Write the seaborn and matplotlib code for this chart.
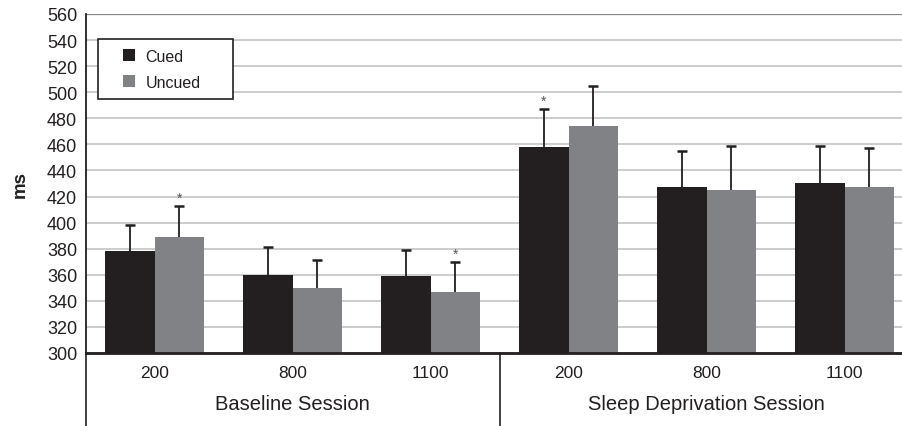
import matplotlib
matplotlib.use("Agg")
from matplotlib import pyplot as plt
import pandas as pd
import seaborn as sns

# values
sessions = ["Baseline Session", "Sleep Deprivation Session"]
delays = ["200", "800", "1100"]
cued_mean = [378, 360, 359, 458, 427, 430]
cued_err = [20, 21, 20, 29, 28, 29]
uncued_mean = [389, 350, 347, 474, 425, 427]
uncued_err = [24, 21, 23, 31, 34, 30]
cued_star = [False, False, False, True, False, False]
uncued_star = [True, False, True, False, False, False]

groups = [s[:2] + d for s in sessions for d in delays]
df = pd.DataFrame({
    "group": groups * 2,
    "cue": ["Cued"] * 6 + ["Uncued"] * 6,
    "ms": cued_mean + uncued_mean,
})

sns.set_theme(style="white")
plt.rcParams["font.family"] = ["Liberation Sans", "DejaVu Sans"]

fig = plt.figure(figsize=(9.03, 4.27), dpi=100)
# the axes run a little past the right edge, as in the reference
ax = fig.add_axes([0.0947, 0.171, 0.917, 0.794])

sns.barplot(data=df, x="group", y="ms", hue="cue", order=groups,
            palette=["#231f20", "#808285"], width=0.72, saturation=1,
            errorbar=None, linewidth=0, ax=ax, zorder=2)

errs = [cued_err, uncued_err]
stars = [cued_star, uncued_star]
for cont, err, star in zip(ax.containers, errs, stars):
    xs = [p.get_x() + p.get_width() / 2 for p in cont.patches]
    hs = [p.get_height() for p in cont.patches]
    eb = ax.errorbar(xs, hs, yerr=[[0] * len(err), err], fmt="none",
                     ecolor="#231f20", elinewidth=1.3, capsize=3.5,
                     capthick=1.8, zorder=3)
    # only the upper cap is wanted
    eb[1][0].set_visible(False)
    for x, h, e, s in zip(xs, hs, err, star):
        if s:
            ax.text(x, h + e + 1, "*", ha="center", va="bottom",
                    fontsize=10, color="#555555")

ax.set_ylim(300, 560)
ax.set_yticks(range(300, 561, 20))
ax.yaxis.grid(True, color="#c8c8c8", linewidth=1.3, zorder=0)
ax.set_axisbelow(True)
ax.set_xlim(-0.5, 5.5)
ax.set_xticks(range(6))
ax.set_xticklabels(delays * 2)
ax.tick_params(axis="x", length=0, pad=9, labelsize=12.5, colors="#231f20")
ax.tick_params(axis="y", length=0, pad=6, labelsize=13, colors="#231f20")
ax.set_xlabel("")
ax.set_ylabel("ms", fontsize=13.5, fontweight="bold", labelpad=13,
              color="#231f20")

for side in ["top", "right"]:
    ax.spines[side].set_visible(False)
ax.spines["left"].set_color("#231f20")
ax.spines["left"].set_linewidth(1.3)
ax.spines["bottom"].set_color("#231f20")
ax.spines["bottom"].set_linewidth(2)
ax.axhline(560, color="#888888", linewidth=1.6, zorder=1)

# second level of the category axis
tr = ax.get_xaxis_transform()
for xv in [-0.5, 2.5]:
    ax.plot([xv, xv], [0, -0.22], transform=tr, color="#231f20",
            linewidth=1.2, clip_on=False)
for i, s in enumerate(sessions):
    ax.text(1 + 3 * i, -0.15, s, transform=tr, ha="center", va="center",
            fontsize=14.5, color="#231f20")

leg = ax.legend(loc="upper left", bbox_to_anchor=(0.0145, 0.761, 0.164, 0.165),
                mode="expand", fancybox=False, edgecolor="#231f20",
                fontsize=11.5, handlelength=1.6, handleheight=0.8,
                borderpad=0.6, labelspacing=0.7, handletextpad=0.8,
                borderaxespad=0, framealpha=1)
leg.get_frame().set_linewidth(1.2)
for t in leg.get_texts():
    t.set_color("#231f20")
# push the small squares to the right of their handle box
for h in leg.legend_handles:
    w = h.get_width()
    h.set_x(h.get_x() + w / 2 + 2)
    h.set_width(w / 2)

fig.savefig("out.png", dpi=100)
